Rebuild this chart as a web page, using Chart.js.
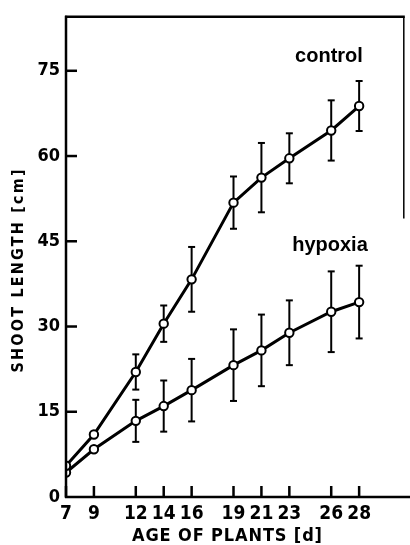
<!DOCTYPE html>
<html>
<head>
<meta charset="utf-8">
<script src="https://cdn.jsdelivr.net/npm/chart.js@4/dist/chart.umd.min.js"></script>
<style>
  html, body { margin: 0; padding: 0; background: #fff; }
  #wrap { width: 410px; height: 545px; }
</style>
</head>
<body>
<div id="wrap"><canvas id="c" width="410" height="545"></canvas></div>
<script>
// ---- data ----
const days = [7, 9, 12, 14, 16, 19, 21, 23, 26, 28];
const controlMean = [5.5, 11.0, 22.0, 30.5, 38.3, 51.8, 56.2, 59.6, 64.5, 68.8];
const controlErr  = [0, 0, 3.1, 3.2, 5.7, 4.6, 6.1, 4.4, 5.3, 4.4];
const hypoxiaMean = [4.3, 8.4, 13.4, 16.0, 18.8, 23.2, 25.8, 28.9, 32.6, 34.3];
const hypoxiaErr  = [0, 0, 3.7, 4.5, 5.5, 6.3, 6.3, 5.7, 7.1, 6.4];
const xTicks = [7, 9, 12, 14, 16, 19, 21, 23, 26, 28];
const yTicks = [0, 15, 30, 45, 60, 75];
const seriesNames = ['control', 'hypoxia'];
const xTitle = 'AGE OF PLANTS [d]';
const yTitle = 'SHOOT LENGTH [cm]';

const condensed = "'DejaVu Sans Condensed', 'Liberation Sans Narrow', sans-serif";

const toPoints = (m) => days.map((d, i) => ({ x: d, y: m[i] }));
const errs = [controlErr, hypoxiaErr];
const means = [controlMean, hypoxiaMean];

function spacedText(ctx, text, cx, cy, targetW) {
  ctx.letterSpacing = '0px';
  const w = ctx.measureText(text).width;
  const sp = Math.max(0, (targetW - w) / (text.length - 1));
  ctx.letterSpacing = sp + 'px';
  ctx.textAlign = 'left';
  ctx.textBaseline = 'middle';
  ctx.fillText(text, cx - targetW / 2, cy);
  ctx.letterSpacing = '0px';
}

function seg(ctx, x1, y1, x2, y2) {
  ctx.beginPath();
  ctx.moveTo(x1, y1);
  ctx.lineTo(x2, y2);
  ctx.stroke();
}

const decor = {
  id: 'decor',
  beforeDatasetsDraw(chart) {
    const ctx = chart.ctx, xs = chart.scales.x, ys = chart.scales.y;
    ctx.save();
    ctx.strokeStyle = '#000';
    ctx.lineWidth = 2;
    for (let s = 0; s < means.length; s++) {
      days.forEach((d, i) => {
        const e = errs[s][i];
        if (!e) return;
        const x = xs.getPixelForValue(d);
        const yt = ys.getPixelForValue(means[s][i] + e);
        const yb = ys.getPixelForValue(means[s][i] - e);
        seg(ctx, x, yt, x, yb);
        seg(ctx, x - 3.5, yt, x + 3.5, yt);
        seg(ctx, x - 3.5, yb, x + 3.5, yb);
      });
    }
    ctx.restore();
  },
  afterDraw(chart) {
    const ctx = chart.ctx, xs = chart.scales.x, ys = chart.scales.y;
    const a = chart.chartArea;
    ctx.save();
    ctx.setLineDash([]);
    ctx.globalAlpha = 1;
    ctx.strokeStyle = '#000';
    ctx.fillStyle = '#000';
    // inward ticks
    for (const v of yTicks) {
      if (v === 0) continue;
      const y = ys.getPixelForValue(v);
      ctx.fillRect(a.left, y - 1.25, 11, 2.5);
    }
    for (const v of xTicks) {
      const x = xs.getPixelForValue(v);
      ctx.fillRect(x - 1.25, a.bottom - 11, 2.5, 11);
    }
    // frame
    ctx.lineWidth = 2.5;
    seg(ctx, a.left, a.top - 1, a.left, a.bottom + 1);
    seg(ctx, a.left - 1, a.bottom, chart.width, a.bottom);
    seg(ctx, a.left - 1, a.top, a.right + 1, a.top);
    ctx.lineWidth = 1.5;
    seg(ctx, a.right, a.top, a.right, ys.getPixelForValue(49));
    // axis titles
    ctx.font = 'bold 18px ' + condensed;
    spacedText(ctx, xTitle, 227, 536, 190);
    ctx.save();
    ctx.translate(19, 271);
    ctx.rotate(-Math.PI / 2);
    ctx.font = 'bold 16px ' + condensed;
    spacedText(ctx, yTitle, 0, 0, 203);
    ctx.restore();
    // series labels
    ctx.font = 'bold 20px "Liberation Sans", Arial, sans-serif';
    ctx.textAlign = 'center';
    ctx.textBaseline = 'alphabetic';
    ctx.fillText(seriesNames[0], 329, 62);
    ctx.fillText(seriesNames[1], 330, 251);
    ctx.restore();
  }
};

const ds = (name, m) => ({
  label: name,
  data: toPoints(m),
  borderColor: '#000',
  borderWidth: 3,
  backgroundColor: '#fff',
  pointBackgroundColor: '#fff',
  pointBorderColor: '#000',
  pointBorderWidth: 2,
  pointRadius: 4.2,
  tension: 0,
  fill: false
});

new Chart(document.getElementById('c'), {
  type: 'line',
  data: { datasets: [ds(seriesNames[0], controlMean), ds(seriesNames[1], hypoxiaMean)] },
  options: {
    responsive: false,
    devicePixelRatio: 1,
    animation: false,
    layout: { padding: { top: 12, right: 2, left: 0, bottom: 0 } },
    plugins: { legend: { display: false }, tooltip: { enabled: false } },
    scales: {
      x: {
        type: 'linear',
        min: 7, max: 31.2,
        afterBuildTicks: s => { s.ticks = xTicks.map(v => ({ value: v })); },
        afterFit: s => { s.height = 48; },
        grid: { display: false, drawTicks: false },
        border: { display: false },
        ticks: { color: '#000', padding: 6, maxRotation: 0, autoSkip: false,
                 font: { family: condensed, weight: 'bold', size: 19 } }
      },
      y: {
        type: 'linear',
        min: 0, max: 84.5,
        afterBuildTicks: s => { s.ticks = yTicks.map(v => ({ value: v })); },
        afterFit: s => { s.width = 66; },
        grid: { display: false, drawTicks: false },
        border: { display: false },
        ticks: { color: '#000', padding: 6,
                 font: { family: condensed, weight: 'bold', size: 18 } }
      }
    }
  },
  plugins: [decor]
});
</script>
</body>
</html>
